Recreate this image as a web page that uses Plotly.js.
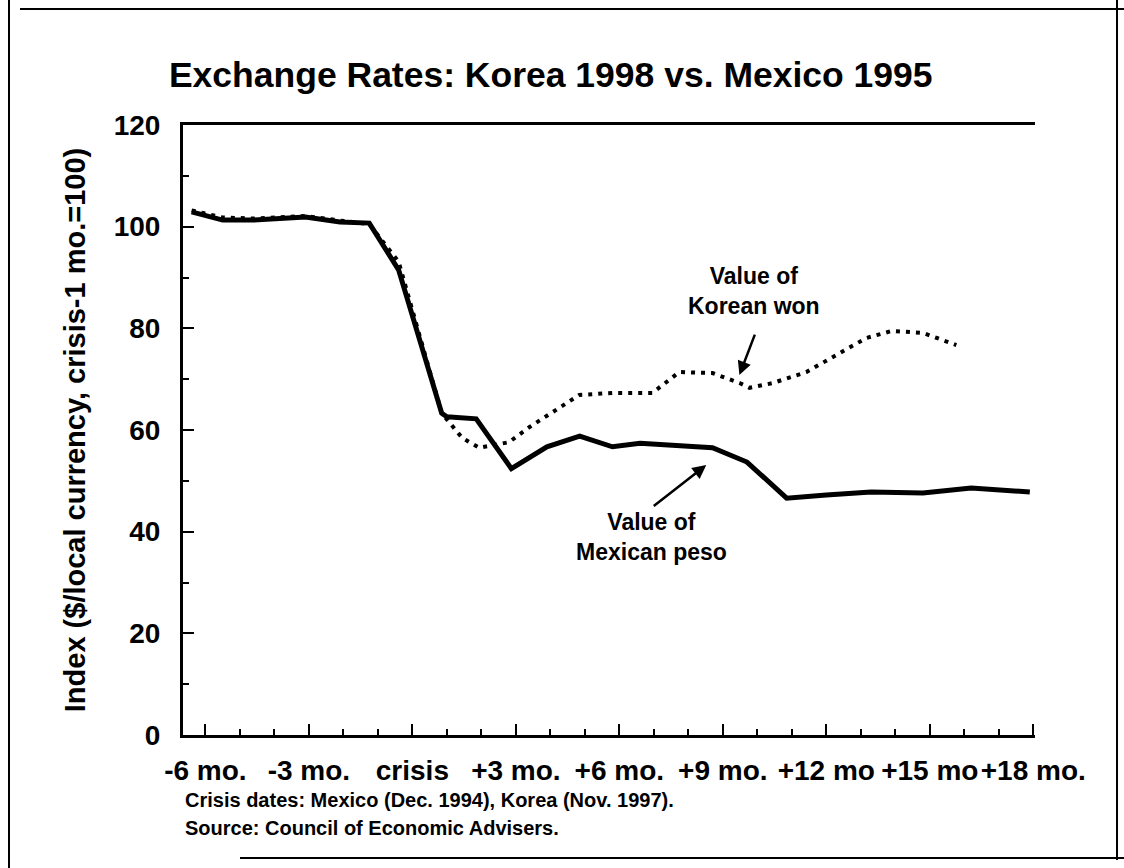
<!DOCTYPE html>
<html>
<head>
<meta charset="utf-8">
<script src="https://cdn.plot.ly/plotly-3.0.1.min.js"></script>
<style>
  html, body { margin: 0; padding: 0; background: #fff; }
  #chart { width: 1124px; height: 868px; }
</style>
</head>
<body>
<div id="chart"></div>
<script>
// months relative to crisis, index ($/local currency, crisis-1 mo. = 100)
const pesoMonths = [-6.4, -5.5, -4.6, -3.1, -2.1, -1.25, -0.4, 0.85, 1.0, 1.85, 2.87, 3.9, 4.85, 5.8, 6.6, 7.95, 8.7, 9.7, 10.85, 12.0, 13.3, 14.8, 16.2, 17.9];
const pesoIndex = [102.9, 101.3, 101.3, 101.9, 100.9, 100.7, 91.5, 63.3, 62.6, 62.2, 52.4, 56.7, 58.8, 56.7, 57.4, 56.7, 56.5, 53.7, 46.6, 47.2, 47.8, 47.6, 48.6, 47.8];

const wonMonths = [-6.4, -5.5, -4.6, -3.1, -2.1, -1.25, -0.4, 0.85, 1.45, 1.94, 2.8, 3.4, 4.84, 5.8, 6.96, 7.74, 8.7, 9.5, 9.77, 10.43, 11.42, 12.38, 13.16, 13.9, 14.8, 15.77];
const wonIndex = [103.2, 101.8, 101.6, 102.1, 101.2, 100.5, 93.1, 63.3, 58.4, 56.5, 57.6, 60.6, 66.9, 67.3, 67.3, 71.4, 71.2, 69.2, 68.3, 69.2, 71.4, 75.2, 78.1, 79.5, 79.1, 76.7];

const tickMonths = [-6, -3, 0, 3, 6, 9, 12, 15, 18];
const tickLabels = ["-6 mo.", "-3 mo.", "crisis", "+3 mo.", "+6 mo.", "+9 mo.", "+12 mo", "+15 mo", "+18 mo."];

const W = 1124, H = 868;
const margin = { l: 183, r: 89, t: 125, b: 133, pad: 0 };
const font = "Liberation Sans, Arial, sans-serif";

// page pixel -> paper fraction, for the scanned frame around the figure
const px = (x) => (x - margin.l) / (W - margin.l - margin.r);
const py = (y) => (H - margin.b - y) / (H - margin.t - margin.b);
const frame = (x0, y0, x1, y1) => ({
  type: "line", xref: "paper", yref: "paper",
  x0: px(x0), y0: py(y0), x1: px(x1), y1: py(y1),
  line: { color: "black", width: 2 },
});

const peso = {
  x: pesoMonths, y: pesoIndex, mode: "lines", name: "Mexican peso",
  line: { color: "black", width: 5 },
};
const won = {
  x: wonMonths, y: wonIndex, mode: "lines", name: "Korean won",
  line: { color: "black", width: 4, dash: "4px,6px" },
};

const layout = {
  width: W, height: H,
  margin,
  paper_bgcolor: "white", plot_bgcolor: "white",
  showlegend: false,
  font: { family: font, color: "black" },
  title: {
    text: "Exchange Rates: Korea 1998 vs. Mexico 1995",
    font: { family: font, size: 35.5, weight: "bold", color: "black" },
    xref: "container", x: 0.49, xanchor: "center",
    yref: "container", y: 0.914, yanchor: "middle",
  },
  xaxis: {
    range: [-6.65, 18.05],
    tickmode: "array", tickvals: tickMonths, ticktext: tickLabels,
    ticks: "inside", ticklen: 11, tickwidth: 2, tickcolor: "black",
    minor: { tickmode: "linear", tick0: -6, dtick: 1, ticks: "inside", ticklen: 6, tickwidth: 2, tickcolor: "black" },
    showline: true, linewidth: 3, linecolor: "black", mirror: true,
    showgrid: false, zeroline: false,
    tickfont: { family: font, size: 28, weight: "bold", color: "black" },
    ticklabelstandoff: 8,
  },
  yaxis: {
    range: [0, 120], dtick: 20,
    ticks: "inside", ticklen: 11, tickwidth: 2, tickcolor: "black",
    minor: { dtick: 10, ticks: "inside", ticklen: 6, tickwidth: 2, tickcolor: "black" },
    showline: true, linewidth: 3, linecolor: "black",
    showgrid: false, zeroline: false,
    tickfont: { family: font, size: 28, weight: "bold", color: "black" },
    ticklabelstandoff: 14,
    title: {
      text: "Index ($/local currency, crisis-1 mo.=100)",
      font: { family: font, size: 29, weight: "bold", color: "black" },
      standoff: 20,
    },
  },
  annotations: [
    {
      x: 9.91, y: 87.3, text: "Value of<br>Korean won", showarrow: false,
      font: { family: font, size: 23, weight: "bold", color: "black" },
    },
    {
      x: 9.48, y: 70.8, ax: 16, ay: -42, text: "", showarrow: true,
      arrowhead: 2, arrowsize: 1.1, arrowwidth: 2.5, arrowcolor: "black",
    },
    {
      x: 6.93, y: 39.0, text: "Value of<br>Mexican peso", showarrow: false,
      font: { family: font, size: 23, weight: "bold", color: "black" },
    },
    {
      x: 8.52, y: 53.1, ax: -54, ay: 42, text: "", showarrow: true,
      arrowhead: 2, arrowsize: 1.1, arrowwidth: 2.5, arrowcolor: "black",
    },
    {
      xref: "paper", yref: "paper", x: px(183), y: py(800), xanchor: "left", yanchor: "middle",
      text: "Crisis dates: Mexico (Dec. 1994), Korea (Nov. 1997).", showarrow: false,
      font: { family: font, size: 20, weight: "bold", color: "black" },
    },
    {
      xref: "paper", yref: "paper", x: px(183), y: py(828), xanchor: "left", yanchor: "middle",
      text: "Source: Council of Economic Advisers.", showarrow: false,
      font: { family: font, size: 20, weight: "bold", color: "black" },
    },
  ],
  shapes: [
    frame(9, 0, 9, 868),
    frame(20, 9, 1124, 9),
    frame(1117, 0, 1117, 860),
    frame(240, 858, 1124, 858),
  ],
};

Plotly.newPlot("chart", [peso, won], layout, { displayModeBar: false, staticPlot: true });
</script>
</body>
</html>
